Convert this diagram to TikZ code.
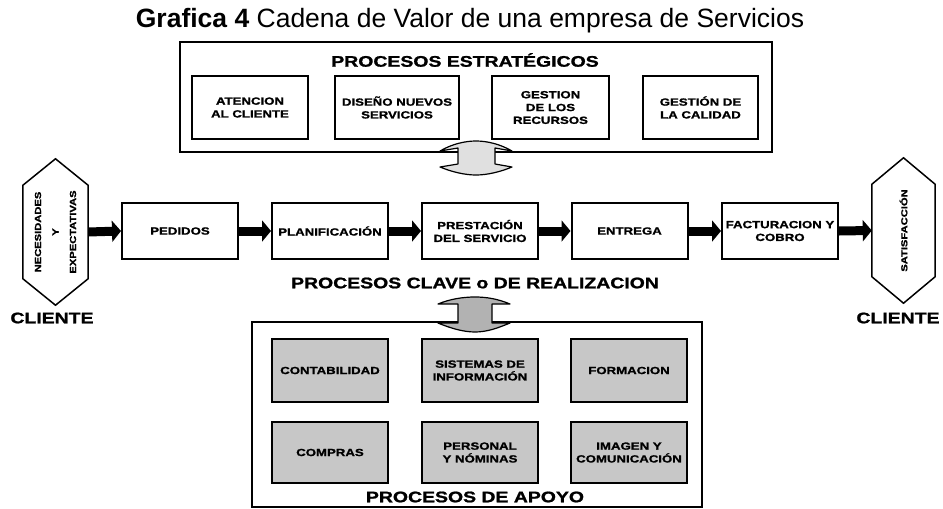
\documentclass[tikz,border=0pt]{standalone}
\usepackage{fontspec}
\setmainfont{Liberation Sans}
\newfontfamily\blk[FakeStretch=1.27,FakeBold=1.3]{Liberation Sans}
\usetikzlibrary{arrows.meta,calc}
\newcommand\boxfont{\blk\bfseries\fontsize{10.4}{12.8}\selectfont}
\newcommand\headfont{\blk\bfseries\fontsize{15.3}{17}\selectfont}
\newcommand\hexfont{\blk\bfseries\fontsize{8.8}{17.5}\selectfont}
\tikzset{
  outerbox/.style={draw, line width=1.3pt},
  topbox/.style={draw, line width=2pt, fill=white, minimum height=63pt, inner sep=0pt, align=center, font=\boxfont},
  chainbox/.style={draw, line width=2pt, fill=white, minimum width=116pt, minimum height=56pt, inner sep=0pt, align=center, font=\boxfont},
  grbox/.style={draw, line width=2.2pt, fill=black!22, minimum width=116pt, inner sep=0pt, align=center, font=\boxfont},
  hexnode/.style={minimum width=65pt, minimum height=93pt, inner sep=0pt},
  hexline/.style={line width=1.5pt, line join=miter},
  head/.style={font=\headfont},
  bigarrow/.style={line width=9pt, -{Triangle[length=9pt,width=21pt]}},
  dblarrow/.style={draw, line width=1.2pt, line join=round},
}
\begin{document}
\begin{tikzpicture}[x=1pt,y=-1pt]
\useasboundingbox (0,0) rectangle (943,509);
% title
\node (title) at (470,21) {\fontsize{26.5}{30}\selectfont\textbf{Grafica 4} Cadena de Valor de una empresa de Servicios};
% top group
\draw[outerbox] (180,42) rectangle (772,152);
\node[head] (estr) at (465,60) {PROCESOS ESTRATÉGICOS};
\node[topbox, minimum width=116pt] (atencion) at (250,107.5) {ATENCION\\AL CLIENTE};
\node[topbox, minimum width=124pt] (diseno) at (397,107.5) {DISEÑO NUEVOS\\SERVICIOS};
\node[topbox, minimum width=117pt] (gestion) at (550.5,107.5) {GESTION\\DE LOS\\RECURSOS};
\node[topbox, minimum width=115pt] (calidad) at (700.5,107.5) {GESTIÓN DE\\LA CALIDAD};
% top double arrow
\path[dblarrow, fill=black!12] (458,148) -- (440,151) .. controls (452,144) and (465,141) .. (476,141) .. controls (487,141) and (500,144) .. (512,151) -- (495,148) -- (495,164) -- (512,167) .. controls (500,172) and (487,175) .. (476,175) .. controls (465,175) and (452,172) .. (440,167) -- (458,164) -- cycle;
% chain
\node[hexnode] (necesid) at (55.5,232) {};
\draw[hexline] (necesid.south west) -- (necesid.north west) -- ($(necesid.north)+(0,26.5pt)$) -- (necesid.north east) -- (necesid.south east) -- ($(necesid.south)+(0,-26.5pt)$) -- cycle;
\node[rotate=90, font=\hexfont, align=center] (necesidtxt) at (necesid.center) {NECESIDADES\\Y\\EXPECTATIVAS};
\node[chainbox] (pedidos) at (180,231) {PEDIDOS};
\node[chainbox] (planif) at (330,231) {PLANIFICACIÓN};
\node[chainbox] (prest) at (480,231) {PRESTACIÓN\\DEL SERVICIO};
\node[chainbox] (entrega) at (629.5,231) {ENTREGA};
\node[chainbox] (factur) at (780,231) {FACTURACION Y\\COBRO};
\node[hexnode, minimum width=63pt, minimum height=92pt] (satisf) at (903.5,230.5) {};
\draw[hexline] (satisf.south west) -- (satisf.north west) -- ($(satisf.north)+(0,26.5pt)$) -- (satisf.north east) -- (satisf.south east) -- ($(satisf.south)+(0,-26.5pt)$) -- cycle;
\node[rotate=90, font=\hexfont] (satisftxt) at (satisf.center) {SATISFACCIÓN};
\draw[bigarrow] (necesid.east) -- (pedidos.west);
\draw[bigarrow] (pedidos.east) -- (planif.west);
\draw[bigarrow] (planif.east) -- (prest.west);
\draw[bigarrow] (prest.east) -- (entrega.west);
\draw[bigarrow] (entrega.east) -- (factur.west);
\draw[bigarrow] (factur.east) -- (satisf.west);
\node[head] (clave) at (475,283) {PROCESOS CLAVE o DE REALIZACION};
\node[head] (clienteL) at (52,318) {CLIENTE};
\node[head] (clienteR) at (898,318) {CLIENTE};
% bottom group
\draw[outerbox] (252,322) rectangle (702,507);
\node[grbox, minimum height=63pt] (contab) at (330,370.5) {CONTABILIDAD};
\node[grbox, minimum height=63pt] (sistemas) at (480,370.5) {SISTEMAS DE\\INFORMACIÓN};
\node[grbox, minimum height=63pt] (formacion) at (629,370.5) {FORMACION};
\node[grbox, minimum height=61pt] (compras) at (330,452.5) {COMPRAS};
\node[grbox, minimum height=61pt] (personal) at (480,452.5) {PERSONAL\\Y NÓMINAS};
\node[grbox, minimum height=61pt] (imagen) at (629,452.5) {IMAGEN Y\\COMUNICACIÓN};
\node[head] (apoyo) at (475,497) {PROCESOS DE APOYO};
% bottom double arrow
\path[dblarrow, fill=black!30] (458,304) -- (438,304) .. controls (450,299) and (463,297) .. (475,297) .. controls (487,297) and (498,299) .. (510,304) -- (492,304) -- (492,323) -- (510,323) .. controls (498,328) and (487,332) .. (475,332) .. controls (463,332) and (450,328) .. (438,323) -- (458,323) -- cycle;
\end{tikzpicture}
\end{document}
